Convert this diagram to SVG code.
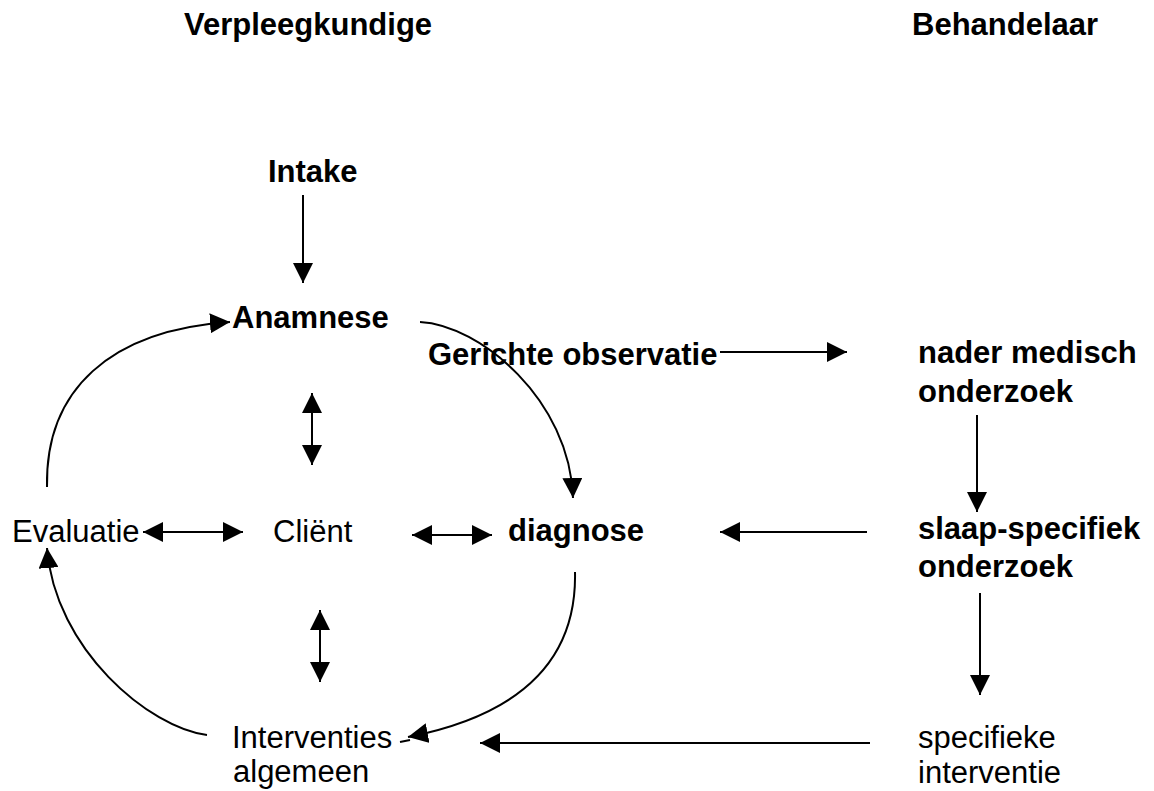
<svg xmlns="http://www.w3.org/2000/svg" width="1154" height="791" viewBox="0 0 1154 791">
<style>
text{font-family:"Liberation Sans",Arial,sans-serif;font-size:31px;fill:#000}
.b{font-weight:bold}
.c{fill:none;stroke:#000;stroke-width:2}
</style>
<defs>
<marker id="ah" markerUnits="userSpaceOnUse" markerWidth="20" markerHeight="20" refX="20" refY="10" orient="auto-start-reverse" viewBox="0 0 20 20">
<path d="M0,0 L20,10 L0,20 z" fill="#000"/>
</marker>
</defs>
<rect width="1154" height="791" fill="#fff"/>
<g id="title-verpleegkundige"><text class="b" x="184" y="35">Verpleegkundige</text></g>
<g id="title-behandelaar"><text class="b" x="912" y="35">Behandelaar</text></g>
<g id="intake"><text class="b" x="268" y="182">Intake</text></g>
<g id="anamnese"><text class="b" x="232" y="328">Anamnese</text></g>
<g id="gerichte-observatie"><text class="b" x="428" y="365">Gerichte observatie</text></g>
<g id="nader-medisch"><text class="b" x="918" y="363">nader medisch</text><text class="b" x="918" y="402">onderzoek</text></g>
<g id="evaluatie"><text x="12" y="542">Evaluatie</text></g>
<g id="client"><text x="273" y="542">Cliënt</text></g>
<g id="diagnose"><text class="b" x="508" y="541">diagnose</text></g>
<g id="slaap-specifiek"><text class="b" x="918" y="539">slaap-specifiek</text><text class="b" x="918" y="577">onderzoek</text></g>
<g id="interventies"><text x="232" y="748">Interventies</text><text x="233" y="782">algemeen</text></g>
<g id="specifieke"><text x="918" y="748">specifieke</text><text x="918" y="783">interventie</text></g>
<g id="connectors">
<path class="c" d="M303,195 L303,283" marker-end="url(#ah)"/>
<path class="c" d="M720,352 L847,352" marker-end="url(#ah)"/>
<path class="c" d="M977,415 L977,512" marker-end="url(#ah)"/>
<path class="c" d="M867,532 L720,532" marker-end="url(#ah)"/>
<path class="c" d="M980,593 L980,695" marker-end="url(#ah)"/>
<path class="c" d="M870,743 L480,743" marker-end="url(#ah)"/>
<path class="c" d="M312,393 L312,465" marker-start="url(#ah)" marker-end="url(#ah)"/>
<path class="c" d="M320,610 L320,682" marker-start="url(#ah)" marker-end="url(#ah)"/>
<path class="c" d="M143,532 L243,532" marker-start="url(#ah)" marker-end="url(#ah)"/>
<path class="c" d="M412,535 L492,535" marker-start="url(#ah)" marker-end="url(#ah)"/>
<path class="c" d="M47,487 C45,390 110,330 230,322" marker-end="url(#ah)"/>
<path class="c" d="M420,322 C480,325 570,400 573,498" marker-end="url(#ah)"/>
<path class="c" d="M575,572 C577,660 520,715 408,737" marker-end="url(#ah)"/>
<path class="c" d="M400,742 L410,740"/>
<path class="c" d="M207,735 C150,728 55,650 47,548" marker-end="url(#ah)"/>
</g>
</svg>
